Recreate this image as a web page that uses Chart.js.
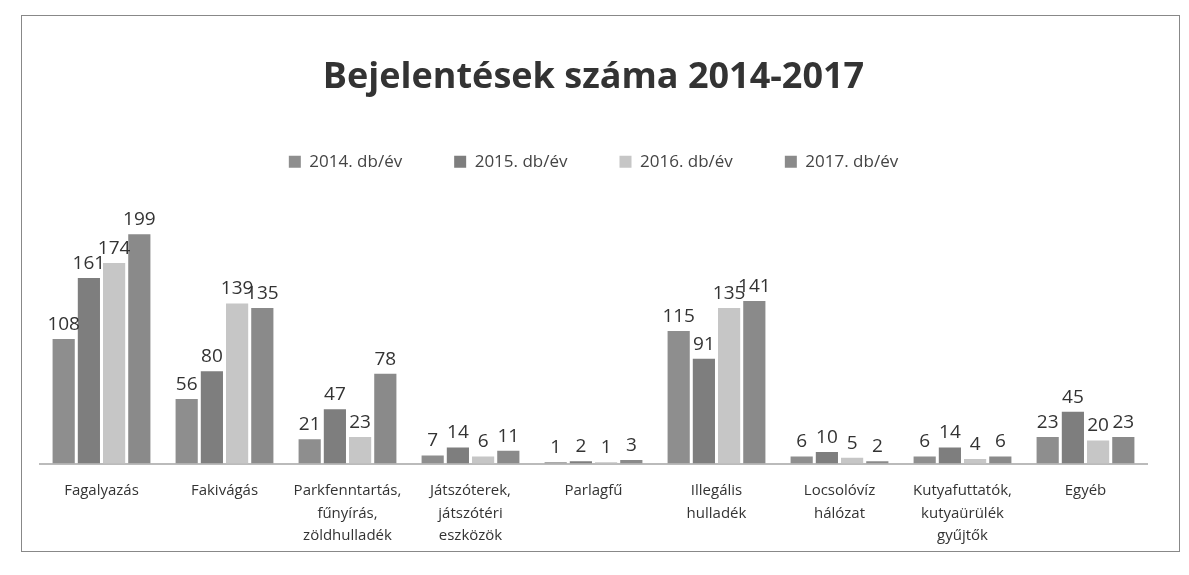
<!DOCTYPE html>
<html>
<head>
<meta charset="utf-8">
<script src="https://cdn.jsdelivr.net/npm/chart.js@4"></script>
<style>
  body { margin: 0; background: #fff; }
  #wrap { position: relative; width: 1189px; height: 575px; }
  #frame { position: absolute; left: 21px; top: 15px; width: 1157px; height: 535px; border: 1px solid #888; }
  canvas { position: absolute; left: 0; top: 0; }
</style>
</head>
<body>
<div id="wrap">
  <div id="frame"></div>
  <canvas id="chart" width="1189" height="575"></canvas>
</div>
<script>
// categories and yearly counts
const categories = [
  'Fagalyazás',
  'Fakivágás',
  ['Parkfenntartás,', 'fűnyírás,', 'zöldhulladék'],
  ['Játszóterek,', 'játszótéri', 'eszközök'],
  'Parlagfű',
  ['Illegális', 'hulladék'],
  ['Locsolóvíz', 'hálózat'],
  ['Kutyafuttatók,', 'kutyaürülék', 'gyűjtők'],
  'Egyéb'
];
const years = ['2014. db/év', '2015. db/év', '2016. db/év', '2017. db/év'];
const v2014 = [108, 56, 21, 7, 1, 115, 6, 6, 23];
const v2015 = [161, 80, 47, 14, 2, 91, 10, 14, 45];
const v2016 = [174, 139, 23, 6, 1, 135, 5, 4, 20];
const v2017 = [199, 135, 78, 11, 3, 141, 2, 6, 23];
const colors = ['#8e8e8e', '#7e7e7e', '#c6c6c6', '#8a8a8a'];

// numbers above the bars
const valueLabels = {
  id: 'valueLabels',
  afterDatasetsDraw(chart) {
    const ctx = chart.ctx;
    ctx.save();
    ctx.font = '19px "Open Sans", sans-serif';
    ctx.fillStyle = '#333';
    ctx.textAlign = 'center';
    ctx.textBaseline = 'bottom';
    chart.data.datasets.forEach((ds, i) => {
      chart.getDatasetMeta(i).data.forEach((bar, j) => {
        ctx.fillText(ds.data[j], bar.x, bar.y - 5);
      });
    });
    ctx.restore();
  }
};

const ctx = document.getElementById('chart').getContext('2d');
new Chart(ctx, {
  type: 'bar',
  data: {
    labels: categories,
    datasets: [v2014, v2015, v2016, v2017].map((d, i) => ({
      label: years[i],
      data: d,
      backgroundColor: colors[i],
      borderWidth: 0
    }))
  },
  options: {
    responsive: false,
    animation: false,
    layout: { padding: { left: 40, right: 42, top: 56, bottom: 12 } },
    datasets: { bar: { categoryPercentage: 0.82, barPercentage: 0.88 } },
    plugins: {
      title: {
        display: true,
        text: 'Bejelentések száma 2014-2017',
        color: '#333',
        font: { family: '"Open Sans", sans-serif', size: 36, weight: 'bold' },
        padding: { top: 0, bottom: 2 }
      },
      legend: {
        position: 'top',
        labels: {
          color: '#444',
          font: { family: '"Open Sans", sans-serif', size: 17 },
          boxWidth: 12,
          boxHeight: 12,
          padding: 52
        }
      },
      tooltip: { enabled: false }
    },
    scales: {
      x: {
        grid: { display: false, drawTicks: false },
        border: { display: true, color: '#bbb', width: 2 },
        ticks: {
          color: '#333',
          padding: 16,
          maxRotation: 0,
          autoSkip: false,
          font: { family: '"Open Sans", sans-serif', size: 15, lineHeight: 1.5 }
        }
      },
      y: {
        display: false,
        min: 0,
        max: 246
      }
    }
  },
  plugins: [valueLabels]
});
</script>
</body>
</html>
